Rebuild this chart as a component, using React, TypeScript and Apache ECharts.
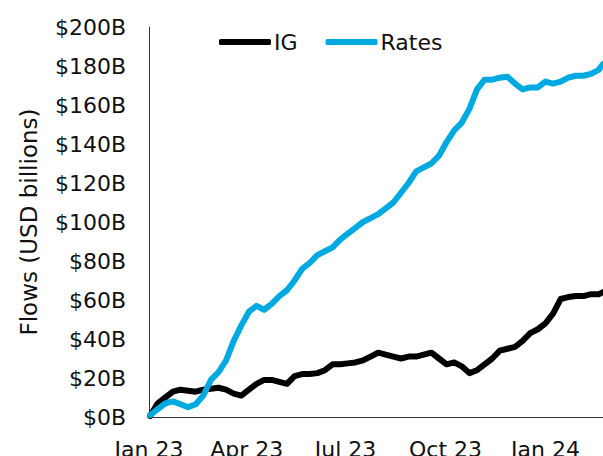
import React, { useEffect, useRef } from "react";
import * as echarts from "echarts";

const dates = [
  "2023-01-02", "2023-01-09", "2023-01-16", "2023-01-23", "2023-01-30",
  "2023-02-06", "2023-02-13", "2023-02-20", "2023-02-27",
  "2023-03-06", "2023-03-13", "2023-03-20", "2023-03-27",
  "2023-04-03", "2023-04-10", "2023-04-17", "2023-04-24",
  "2023-05-01", "2023-05-08", "2023-05-15", "2023-05-22", "2023-05-29",
  "2023-06-05", "2023-06-12", "2023-06-19", "2023-06-26",
  "2023-07-03", "2023-07-10", "2023-07-17", "2023-07-24", "2023-07-31",
  "2023-08-07", "2023-08-14", "2023-08-21", "2023-08-28",
  "2023-09-04", "2023-09-11", "2023-09-18", "2023-09-25",
  "2023-10-02", "2023-10-09", "2023-10-16", "2023-10-23", "2023-10-30",
  "2023-11-06", "2023-11-13", "2023-11-20", "2023-11-27",
  "2023-12-04", "2023-12-11", "2023-12-18", "2023-12-25",
  "2024-01-01", "2024-01-08", "2024-01-15", "2024-01-22", "2024-01-29",
  "2024-02-05", "2024-02-12", "2024-02-19", "2024-02-23",
];

const igValues = [
  0.5, 7, 10, 13, 14,
  13.5, 13, 14, 14.5,
  15, 14, 12, 11,
  14, 17, 19, 19,
  18, 17, 21, 22, 22,
  22.5, 24, 27, 27,
  27.5, 28, 29, 31, 33,
  32, 31, 30, 31,
  31, 32, 33, 30,
  27, 28, 26, 22.5, 24,
  27, 30, 34, 35,
  36, 39, 43, 45,
  48, 53, 60.5, 61.5, 62,
  62, 63, 63, 64,
];

const ratesValues = [
  1, 4, 7, 8, 6.5,
  5, 6.5, 11, 19,
  23, 29, 39, 47,
  54, 57, 55, 58,
  62, 65, 70, 76, 79,
  83, 85, 87, 91,
  94, 97, 100, 102, 104,
  107, 110, 115, 120,
  126, 128, 130, 134,
  141, 147, 151, 158, 168,
  173, 173, 174, 174.5,
  171, 168, 169, 169,
  172, 171, 172, 174, 175,
  175, 176, 178, 181,
];

const seriesNames = ["IG", "Rates"];
const seriesColors = ["#000000", "#00A9E0"];
const monthNames = ["Jan", "Feb", "Mar", "Apr", "May", "Jun", "Jul", "Aug", "Sep", "Oct", "Nov", "Dec"];
const quarterMonths = [0, 3, 6, 9];
const yTicks = { min: 0, max: 200, interval: 20 };
const yAxisTitle = "Flows (USD billions)";

const FONT = "DejaVu Sans";

if (typeof document !== "undefined") {
  document.body.style.margin = "0";
  document.body.style.overflow = "hidden";
  document.documentElement.style.overflow = "hidden";
}

export default function App() {
  const ref = useRef<HTMLDivElement>(null);
  useEffect(() => {
    if (!ref.current) return;
    const chart = echarts.init(ref.current, null, { renderer: "svg" });
    const mk = (vals: number[]) => dates.map((d, i) => [d, vals[i]]);
    chart.setOption({
      animation: false,
      backgroundColor: "#ffffff",
      grid: {
        left: 149,
        right: 0,
        top: 27,
        bottom: 39,
        containLabel: false,
        outerBoundsMode: "none",
      },
      legend: {
        left: 214,
        top: 26,
        itemWidth: 52,
        itemHeight: 6,
        itemGap: 28,
        icon: "roundRect",
        textStyle: { fontFamily: FONT, fontSize: 22, color: "#111", padding: [0, 0, 0, -2] },
        data: seriesNames,
      },
      xAxis: {
        type: "time",
        min: new Date(2023, 0, 1).getTime(),
        max: new Date(2024, 1, 23).getTime(),
        minInterval: 28 * 86400000,
        maxInterval: 31 * 86400000,
        axisLine: { show: true, lineStyle: { color: "#333", width: 1 } },
        axisTick: { show: false },
        splitLine: { show: false },
        axisLabel: {
          fontFamily: FONT,
          fontSize: 22,
          color: "#111",
          margin: 21,
          showMinLabel: true,
          showMaxLabel: true,
          formatter: (val: number) => {
            const d = new Date(val);
            if (d.getDate() === 1 && d.getHours() === 0 && quarterMonths.includes(d.getMonth())) {
              return monthNames[d.getMonth()] + " " + String(d.getFullYear()).slice(2);
            }
            return "";
          },
        },
      },
      yAxis: {
        type: "value",
        min: yTicks.min,
        max: yTicks.max,
        interval: yTicks.interval,
        name: yAxisTitle,
        nameLocation: "middle",
        nameRotate: 90,
        nameGap: 109,
        nameTextStyle: { fontFamily: FONT, fontSize: 23, color: "#111" },
        axisLine: { show: true, lineStyle: { color: "#333", width: 1 } },
        axisTick: { show: false },
        splitLine: { show: false },
        axisLabel: {
          fontFamily: FONT,
          fontSize: 22,
          color: "#111",
          margin: 23,
          formatter: (v: number) => `$${v}B`,
        },
      },
      series: [
        {
          name: seriesNames[0],
          type: "line",
          data: mk(igValues),
          showSymbol: false,
          symbol: "none",
          lineStyle: { color: seriesColors[0], width: 6, cap: "round", join: "round" },
          itemStyle: { color: seriesColors[0] },
          z: 2,
        },
        {
          name: seriesNames[1],
          type: "line",
          data: mk(ratesValues),
          showSymbol: false,
          symbol: "none",
          lineStyle: { color: seriesColors[1], width: 6, cap: "round", join: "round" },
          itemStyle: { color: seriesColors[1] },
          z: 3,
        },
      ],
    });
    return () => chart.dispose();
  }, []);
  return (
    <div
      ref={ref}
      style={{ position: "fixed", left: 0, top: 0, width: 603, height: 456, overflow: "hidden" }}
    />
  );
}
